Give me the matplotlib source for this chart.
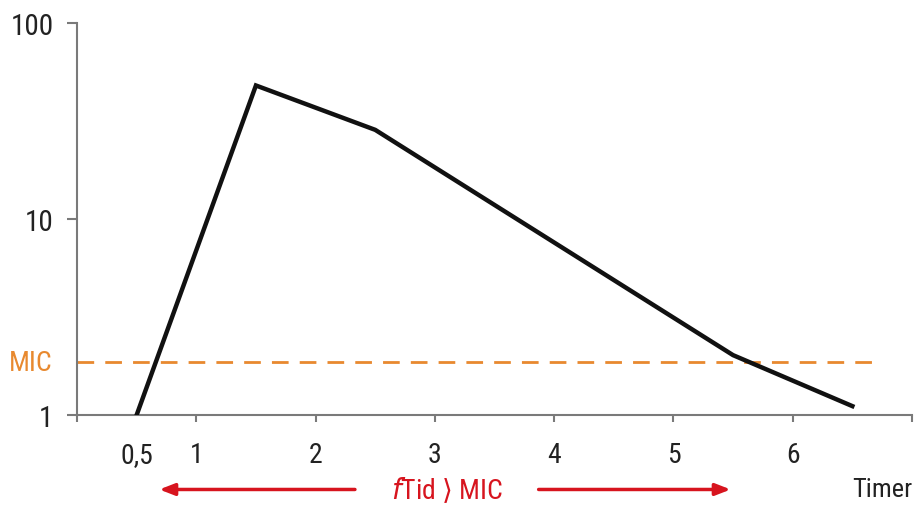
import numpy as np
import matplotlib
matplotlib.use("Agg")
from matplotlib import pyplot as plt
from matplotlib import font_manager

# data
hours = [0.5, 1.5, 2.5, 5.5, 6.5]
conc = [1.0, 48.0, 28.5, 2.02, 1.11]
mic = 1.86
xtick_pos = [0, 1, 2, 3, 4, 5, 6, 7]
xtick_lab = ['', '1', '2', '3', '4', '5', '6', '']
ytick_pos = [1, 10, 100]
ytick_lab = ['1', '10', '100']

# pick a narrow font if there is one
fonts = font_manager.fontManager.ttflist
names = set(f.name for f in fonts)
fam = 'DejaVu Sans'
stretch = 'normal'
for cand in ['Liberation Sans Narrow', 'Roboto Condensed', 'Open Sans Condensed']:
    if cand in names:
        fam = cand
        break
else:
    for f in fonts:
        if f.name == 'DejaVu Sans' and f.stretch in ('condensed', 'semi-condensed'):
            stretch = 'condensed'
            break
plt.rcParams['font.family'] = [fam, 'DejaVu Sans']
plt.rcParams['font.stretch'] = stretch

grey = '#7a7a7a'
orange = '#e8892f'
red = '#d7141e'
dark = '#222222'

fig = plt.figure(figsize=(9.15, 5.06), dpi=100)
ax = fig.add_axes([77/915, 90/506, 835/915, 392/506])

ax.plot(hours, conc, color='#111111', lw=3.2, solid_joinstyle='miter', zorder=3)
ax.plot([0, 6.7], [mic, mic], color=orange, lw=2, dashes=(6, 4), zorder=2)

ax.set_yscale('log')
ax.set_ylim(1, 100)
ax.set_xlim(0, 7)

for s in ['top', 'right']:
    ax.spines[s].set_visible(False)
for s in ['left', 'bottom']:
    ax.spines[s].set_color(grey)
    ax.spines[s].set_linewidth(1.5)

ax.set_xticks(xtick_pos)
ax.set_xticklabels(xtick_lab)
ax.set_xticks([0.5], minor=True)
ax.set_xticklabels(['0,5'], minor=True)
ax.tick_params(axis='x', which='major', direction='out', length=5, width=1.5, color=grey,
               pad=14, labelsize=20, labelcolor=dark)
ax.tick_params(axis='x', which='minor', length=0, pad=19, labelsize=20, labelcolor=dark)

ax.set_yticks(ytick_pos)
ax.set_yticklabels(ytick_lab)
ax.yaxis.set_minor_locator(matplotlib.ticker.NullLocator())
ax.tick_params(axis='y', direction='out', length=7, width=1.5, color=grey, pad=10,
               labelsize=21, labelcolor=dark)

# MIC label
yt = matplotlib.transforms.blended_transform_factory(ax.transAxes, ax.transData)
ax.text(-0.029, mic, 'MIC', color=orange, fontsize=20, ha='right', va='center',
        transform=yt, clip_on=False)

# arrows below the axis
bt = matplotlib.transforms.blended_transform_factory(ax.transData, ax.transAxes)
ay = -0.19
for x0, x1 in [(2.33, 0.69), (3.87, 5.48)]:
    ax.annotate('', xy=(x1, ay), xytext=(x0, ay), xycoords=bt, textcoords=bt,
                arrowprops=dict(arrowstyle='-|>,head_length=0.9,head_width=0.35',
                                color=red, lw=2.5, shrinkA=0, shrinkB=0))
ax.text(3.1, ay, r'$\mathit{f}$Tid $\rangle$ MIC', color=red, fontsize=20,
        ha='center', va='center', transform=bt)
ax.text(7.0, ay, 'Timer', color=dark, fontsize=19, ha='right', va='center',
        transform=bt)

fig.savefig('out.png', dpi=100)
